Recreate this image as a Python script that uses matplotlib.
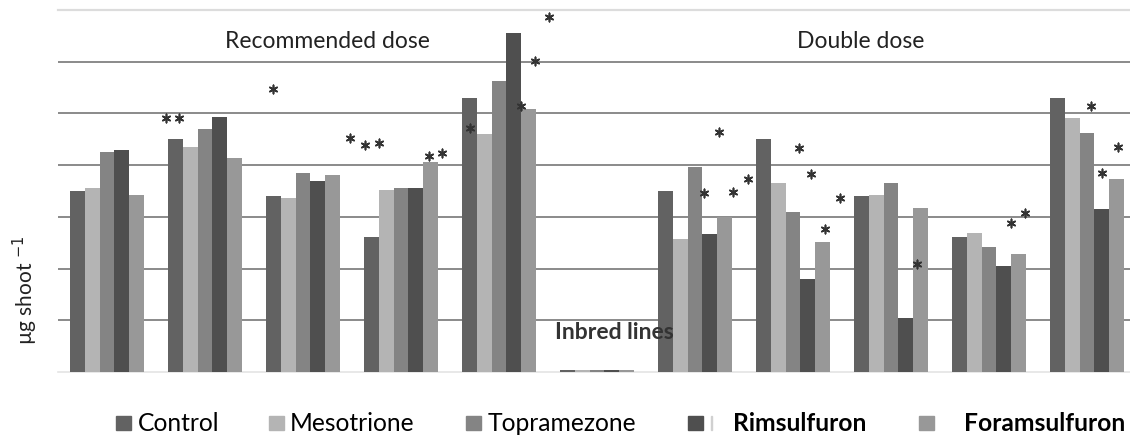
import numpy as np
import matplotlib.pyplot as plt
from matplotlib.patches import Rectangle

plt.rcParams['font.family'] = ['Lato', 'DejaVu Sans']

# groups: 5 recommended dose, inbred line block, 5 double dose
groups = ['R1', 'R2', 'R3', 'R4', 'R5', 'Inbred lines', 'D1', 'D2', 'D3', 'D4', 'D5']
series = ['Control', 'Mesotrione', 'Topramezone', 'Rimsulfuron', 'Foramsulfuron']

control = [3.50, 4.51, 3.40, 2.62, 5.30, 0.04, 3.50, 4.51, 3.40, 2.61, 5.30]
mesotrione = [3.56, 4.35, 3.37, 3.52, 4.60, 0.04, 2.57, 3.66, 3.42, 2.69, 4.91]
topramezone = [4.26, 4.70, 3.85, 3.56, 5.63, 0.04, 3.97, 3.09, 3.66, 2.42, 4.62]
rimsulfuron = [4.29, 4.93, 3.69, 3.56, 6.56, 0.04, 2.67, 1.80, 1.04, 2.05, 3.15]
foramsulfuron = [3.42, 4.14, 3.81, 4.06, 5.09, 0.04, 3.00, 2.51, 3.17, 2.28, 3.73]

# significance asterisks (x in group units, y in axis units)
star_x = [0.60, 0.735, 1.694, 2.48, 2.633, 2.776, 3.286, 3.418, 3.704, 4.224, 4.367, 4.51,
          6.092, 6.245, 6.388, 6.541, 7.061, 7.184, 7.48, 7.327, 8.265, 9.224, 9.367,
          10.041, 10.316, 10.153]
star_y = [4.91, 4.91, 5.47, 4.53, 4.39, 4.43, 4.18, 4.24, 4.72, 5.15, 6.02, 6.87,
          3.46, 4.64, 3.48, 3.73, 4.33, 3.83, 3.37, 2.77, 2.09, 2.88, 3.08,
          5.15, 4.35, 3.85]

colors = ['#626262', '#b4b4b4', '#848484', '#4f4f4f', '#989898']
values = [control, mesotrione, topramezone, rimsulfuron, foramsulfuron]

W, H = 1130, 436
fig = plt.figure(figsize=(W / 100, H / 100), dpi=100)
ax = fig.add_axes([58 / W, 1 - 372 / H, 1078 / W, 362 / H])

x = np.arange(len(groups))
bw = 0.153
for i, (vals, col) in enumerate(zip(values, colors)):
    ax.bar(x + (i - 2) * bw, vals, bw, color=col, linewidth=0, zorder=3)

ax.scatter(star_x, star_y, marker=(6, 2, 0), s=36, c='#333333', linewidths=1.2, zorder=4)

ax.set_xlim(-0.5, len(groups) - 0.5)
ax.set_ylim(0, 7)
ax.set_yticks(range(1, 7))
ax.set_xticks([])
ax.yaxis.grid(True, color='#8a8a8a', linewidth=1.4, zorder=0)
ax.tick_params(left=False, labelleft=False)
for s in ['left', 'right']:
    ax.spines[s].set_visible(False)
ax.spines['top'].set_color('#dcdcdc')
ax.spines['top'].set_linewidth(1.6)
ax.spines['bottom'].set_color('#e4e4e4')
ax.spines['bottom'].set_linewidth(1.2)

ax.text(2.245, 6.40, 'Recommended dose', ha='center', va='center', fontsize=16.5, color='#222222')
ax.text(7.694, 6.40, 'Double dose', ha='center', va='center', fontsize=16.5, color='#222222')
ax.text(5.18, 0.77, 'Inbred lines', ha='center', va='center', fontsize=16.5,
        fontweight='bold', color='#333333', zorder=5)

fig.text(25 / W, 1 - 290 / H, 'µg shoot $^{-1}$', rotation=90, ha='center', va='center',
         fontsize=15, color='#222222')

# legend drawn by hand to keep the original spacing
sq_left = [116, 269, 466, 688, 919]
txt_left = [138, 290, 488, 733, 964]
weights = ['normal', 'normal', 'normal', 'bold', 'bold']
ly = 1 - 423 / H
for sl, tl, name, col, wt in zip(sq_left, txt_left, series, colors, weights):
    fig.add_artist(Rectangle((sl / W, 1 - 430 / H), 15 / W, 14 / H, color=col,
                             transform=fig.transFigure))
    fig.text(tl / W, ly, name, ha='left', va='center', fontsize=17.7, fontweight=wt,
             color='black')
fig.add_artist(Rectangle((711 / W, 1 - 430 / H), 1 / W, 14 / H, color='#d0d0d0',
                         transform=fig.transFigure))

fig.savefig('out.png', dpi=100)
